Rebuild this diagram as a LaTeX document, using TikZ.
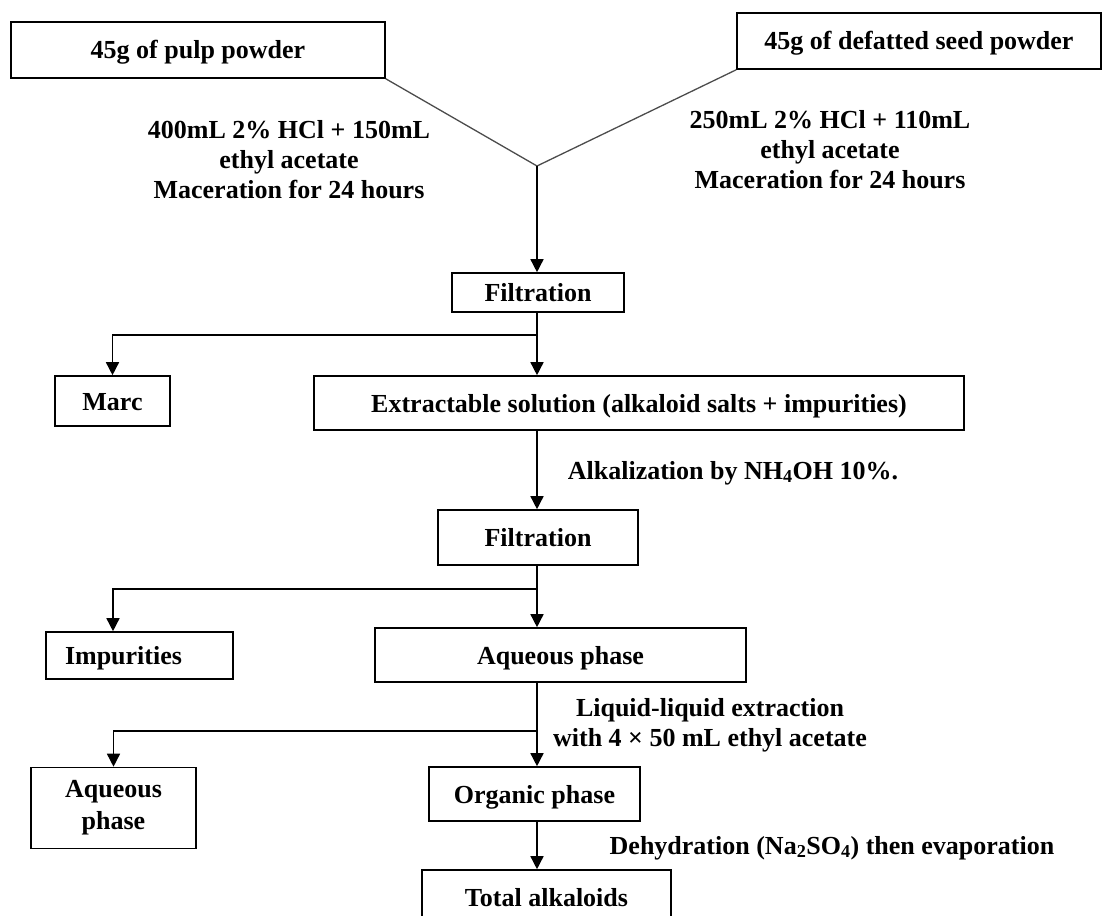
\documentclass[tikz,border=0pt]{standalone}
\usepackage{fontspec}
\setmainfont{Liberation Serif}
\usepackage{tikz}
\usetikzlibrary{arrows.meta}

\begin{document}
\begin{tikzpicture}[x=1pt,y=1pt,
  frame/.style={draw, line width=1.6pt, inner sep=0pt, align=center,
    font=\fontsize{26}{32}\selectfont\bfseries},
  box/.style={frame, text height=18pt, text depth=0pt},
  note/.style={inner sep=0pt, align=center,
    font=\fontsize{26}{30}\selectfont\bfseries},
  link/.style={line width=1.5pt},
  slant/.style={line width=1.3pt, black!70},
  arrow/.style={line width=1.5pt, -{Triangle[width=13pt,length=13pt]}}]
\useasboundingbox (0,0) rectangle (1102,-915);
% starting material
\node[box, minimum width=374, minimum height=56] (pulp) at (198,-50) {45g of pulp powder};
\node[box, minimum width=364, minimum height=56] (seed) at (919,-41) {45g of defatted seed powder};
\node[note] (pulpcond) at (289,-160) {400mL 2\% HCl + 150mL\\ethyl acetate\\Maceration for 24 hours};
\node[note] (seedcond) at (830,-150) {250mL 2\% HCl + 110mL\\ethyl acetate\\Maceration for 24 hours};
\coordinate (join) at (537,-166);
\draw[slant] (pulp.south east) -- (join);
\draw[slant] (seed.south west) -- (join);
% first filtration
\node[box, minimum width=172, minimum height=39] (filt1) at (538,-292.5) {Filtration};
\draw[arrow] (join) -- (join |- filt1.north);
\node[box, minimum width=115, minimum height=50] (marc) at (112.5,-401) {Marc};
\node[box, minimum width=650, minimum height=54] (extr) at (639,-403) {Extractable solution (alkaloid salts + impurities)};
\coordinate (fork1) at (537,-335);
\draw[link] (filt1.south -| fork1) -- (fork1);
\draw[arrow] (fork1) -- (fork1 |- extr.north);
\draw[arrow] (fork1) -| (marc.north);
% alkalization
\node[box, minimum width=200, minimum height=55] (filt2) at (538,-537.5) {Filtration};
\draw[arrow] (extr.south -| fork1) -- (fork1 |- filt2.north);
\node[note] (alkal) at (733,-473) {Alkalization by NH\textsubscript{4}OH 10\%.};
\node[box, minimum height=47, text width=149, inner xsep=19, align=left] (impur) at (139.5,-655.5) {Impurities};
\node[box, minimum width=371, minimum height=54] (aqright) at (560.5,-655) {Aqueous phase};
\coordinate (fork2) at (537,-589);
\draw[link] (filt2.south -| fork2) -- (fork2);
\draw[arrow] (fork2) -- (fork2 |- aqright.north);
\draw[arrow] (fork2) -| ([xshift=-26.5pt]impur.north);
% extraction
\node[note] (llext) at (710,-725) {Liquid-liquid extraction\\with 4 × 50 mL ethyl acetate};
\node[frame, minimum width=165, minimum height=81] (aqleft) at (113.5,-808) {Aqueous\\phase};
\node[box, minimum width=211, minimum height=54] (organic) at (534.5,-794) {Organic phase};
\coordinate (fork3) at (537,-731);
\draw[arrow] (aqright.south -| fork3) -- (fork3 |- organic.north);
\draw[arrow] (fork3) -| (aqleft.north);
% final step
\node[note] (dehyd) at (832,-848) {Dehydration (Na\textsubscript{2}SO\textsubscript{4}) then evaporation};
\node[box, minimum width=249, minimum height=54] (total) at (546.5,-897) {Total alkaloids};
\draw[arrow] (organic.south -| fork3) -- (fork3 |- total.north);
\end{tikzpicture}
\end{document}
